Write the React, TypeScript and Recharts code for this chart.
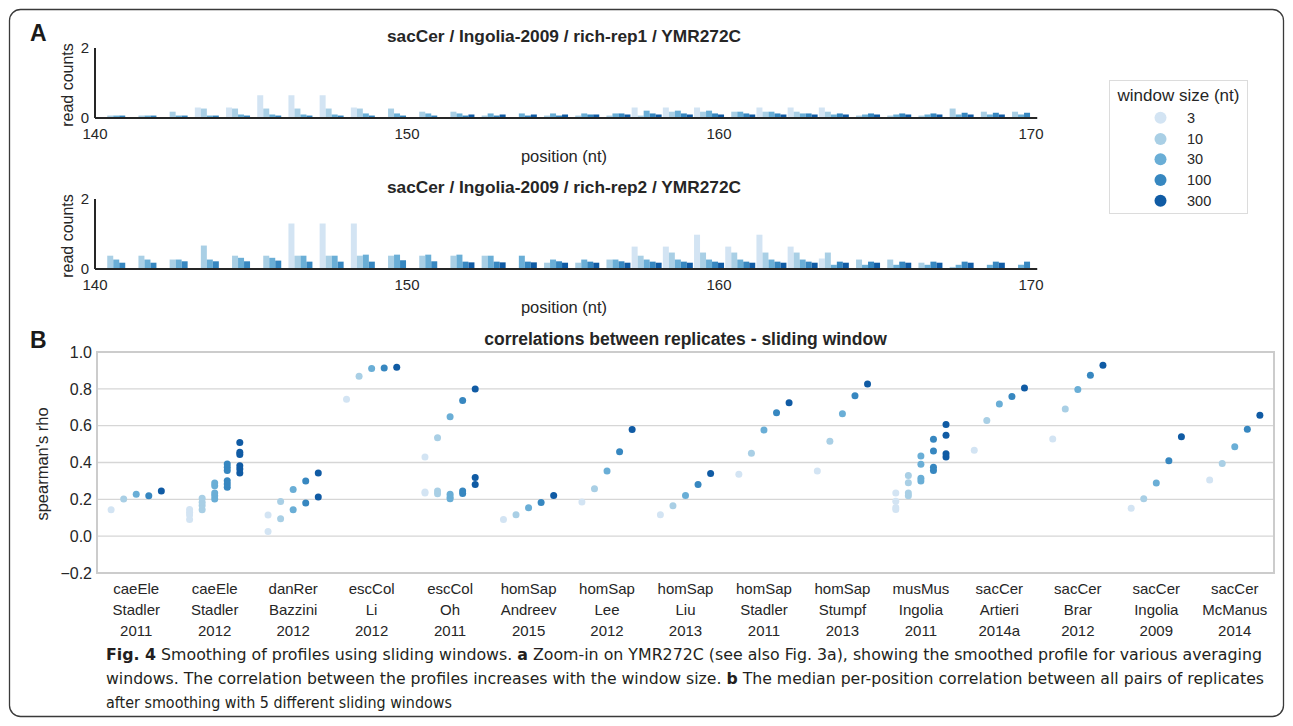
import React from "react";
import {
  ComposedChart,
  Bar,
  XAxis,
  YAxis,
  ScatterChart,
  Scatter,
  CartesianGrid,
  ReferenceArea,
} from "recharts";

// ---------- shared ----------
const windowSizes = ["3", "10", "30", "100", "300"];
const windowColors = ["#d3e4f3", "#a9cfe5", "#6aaed6", "#3787c0", "#105ba4"];
const FONT = "'Liberation Sans', Arial, Helvetica, sans-serif";
const INK = "#262626";

// ---------- panel A : read counts per position ----------
const positions = [
  140, 141, 142, 143, 144, 145, 146, 147, 148, 149, 150, 151, 152, 153, 154,
  155, 156, 157, 158, 159, 160, 161, 162, 163, 164, 165, 166, 167, 168, 169,
];
const positionTicks = [140, 150, 160, 170];
const countTicks = [0, 2];

const rep1W3 = [0, 0, 0, 0.3, 0.3, 0.65, 0.65, 0.65, 0.3, 0, 0, 0, 0, 0, 0, 0, 0, 0.3, 0.3, 0.3, 0, 0.3, 0.3, 0.3, 0, 0, 0, 0, 0, 0];
const rep1W10 = [0.07, 0.07, 0.18, 0.27, 0.27, 0.27, 0.27, 0.27, 0.27, 0.27, 0.18, 0.18, 0.07, 0, 0.07, 0.07, 0.07, 0.07, 0.18, 0.18, 0.18, 0.18, 0.18, 0.18, 0.07, 0.07, 0.07, 0.27, 0.18, 0.18];
const rep1W30 = [0.07, 0.07, 0.07, 0.07, 0.1, 0.1, 0.1, 0.1, 0.13, 0.13, 0.13, 0.13, 0.13, 0.13, 0.13, 0.13, 0.13, 0.21, 0.21, 0.21, 0.18, 0.18, 0.13, 0.1, 0.1, 0.1, 0.1, 0.1, 0.1, 0.1];
const rep1W100 = [0.07, 0.07, 0.07, 0.07, 0.07, 0.07, 0.07, 0.07, 0.07, 0.07, 0.07, 0.07, 0.07, 0.07, 0.07, 0.1, 0.13, 0.13, 0.13, 0.13, 0.13, 0.13, 0.13, 0.13, 0.13, 0.13, 0.13, 0.15, 0.15, 0.15];
const rep1W300 = [0, 0, 0, 0, 0, 0, 0, 0, 0, 0, 0, 0.1, 0.1, 0.1, 0.1, 0.1, 0.1, 0.1, 0.1, 0.1, 0.1, 0.1, 0.1, 0.1, 0.1, 0.1, 0.1, 0.1, 0.1, 0];

const rep2W3 = [0, 0, 0, 0, 0, 0, 1.3, 1.3, 1.3, 0, 0, 0, 0, 0, 0, 0, 0, 0.64, 0.64, 0.98, 0.64, 0.98, 0.64, 0.3, 0, 0, 0, 0, 0, 0];
const rep2W10 = [0.38, 0.38, 0.27, 0.67, 0.38, 0.38, 0.38, 0.38, 0.38, 0.38, 0.38, 0.38, 0.38, 0, 0.18, 0.18, 0.27, 0.38, 0.47, 0.47, 0.47, 0.47, 0.47, 0.47, 0.27, 0.27, 0.18, 0.06, 0, 0];
const rep2W30 = [0.27, 0.27, 0.27, 0.27, 0.32, 0.32, 0.38, 0.38, 0.41, 0.41, 0.41, 0.41, 0.38, 0.38, 0.27, 0.27, 0.27, 0.27, 0.27, 0.27, 0.27, 0.27, 0.27, 0.12, 0.12, 0.12, 0.12, 0.12, 0.12, 0.12];
const rep2W100 = [0.18, 0.18, 0.22, 0.22, 0.22, 0.24, 0.21, 0.21, 0.21, 0.25, 0.22, 0.21, 0.21, 0.21, 0.22, 0.21, 0.22, 0.21, 0.21, 0.21, 0.21, 0.21, 0.21, 0.21, 0.21, 0.21, 0.21, 0.21, 0.21, 0.21];
const rep2W300 = [0, 0, 0, 0, 0, 0, 0, 0, 0, 0, 0, 0.19, 0.19, 0.19, 0.18, 0.18, 0.18, 0.18, 0.18, 0.18, 0.18, 0.18, 0.18, 0.18, 0.18, 0.18, 0.18, 0.18, 0.18, 0];

const windowKeys = ["w3", "w10", "w30", "w100", "w300"];

const buildRows = (a: number[], b: number[], c: number[], d: number[], e: number[]) =>
  positions.map((p, i) => ({ pos: p, w3: a[i], w10: b[i], w30: c[i], w100: d[i], w300: e[i] }));

const rep1Rows = buildRows(rep1W3, rep1W10, rep1W30, rep1W100, rep1W300);
const rep2Rows = buildRows(rep2W3, rep2W10, rep2W30, rep2W100, rep2W300);

// ---------- panel B : spearman correlations ----------
const organisms = ["caeEle", "caeEle", "danRer", "escCol", "escCol", "homSap", "homSap", "homSap", "homSap", "homSap", "musMus", "sacCer", "sacCer", "sacCer", "sacCer"];
const studies = ["Stadler", "Stadler", "Bazzini", "Li", "Oh", "Andreev", "Lee", "Liu", "Stadler", "Stumpf", "Ingolia", "Artieri", "Brar", "Ingolia", "McManus"];
const years = ["2011", "2012", "2012", "2012", "2011", "2015", "2012", "2013", "2011", "2013", "2011", "2014a", "2012", "2009", "2014"];
const rhoTicks = [-0.2, 0, 0.2, 0.4, 0.6, 0.8, 1.0];

const rhoW3 = [[0.144], [0.09, 0.115, 0.13, 0.145], [0.115, 0.025], [0.744], [0.43, 0.235, 0.24], [0.09], [0.185], [0.116], [0.336], [0.354], [0.145, 0.155, 0.19, 0.235], [0.467], [0.528], [0.152], [0.305]];
const rhoW10 = [[0.202], [0.144, 0.166, 0.184, 0.206], [0.188, 0.094], [0.868], [0.535, 0.245, 0.23], [0.116], [0.258], [0.165], [0.45], [0.516], [0.22, 0.235, 0.29, 0.33], [0.628], [0.69], [0.203], [0.394]];
const rhoW30 = [[0.227], [0.202, 0.22, 0.235, 0.274, 0.289], [0.253, 0.144], [0.91], [0.648, 0.227, 0.213, 0.203], [0.154], [0.354], [0.221], [0.576], [0.665], [0.3, 0.315, 0.39, 0.435], [0.717], [0.797], [0.289], [0.485]];
const rhoW100 = [[0.22], [0.265, 0.283, 0.301, 0.356, 0.374, 0.392], [0.3, 0.18], [0.913], [0.737, 0.245, 0.232], [0.183], [0.459], [0.281], [0.67], [0.763], [0.357, 0.374, 0.463, 0.526], [0.759], [0.874], [0.409], [0.581]];
const rhoW300 = [[0.245], [0.343, 0.365, 0.383, 0.444, 0.455, 0.509], [0.343, 0.213], [0.917], [0.799, 0.318, 0.281], [0.221], [0.579], [0.34], [0.725], [0.826], [0.43, 0.447, 0.548, 0.607], [0.805], [0.928], [0.54], [0.656]];
const rhoByWindow = [rhoW3, rhoW10, rhoW30, rhoW100, rhoW300];
const dodgeStep = 0.16;

const scatterSeries = rhoByWindow.map((vals, h) =>
  vals.flatMap((list, i) => list.map((v) => ({ x: i + (h - 2) * dodgeStep, y: v })))
);

// ---------- caption ----------
const captionLines = [
  [
    { t: "Fig. 4", b: true },
    { t: " Smoothing of profiles using sliding windows. ", b: false },
    { t: "a", b: true },
    { t: " Zoom-in on YMR272C (see also Fig. 3a), showing the smoothed profile for various averaging", b: false },
  ],
  [
    { t: "windows. The correlation between the profiles increases with the window size. ", b: false },
    { t: "b", b: true },
    { t: " The median per-position correlation between all pairs of replicates", b: false },
  ],
  [{ t: "after smoothing with 5 different sliding windows", b: false }],
];
const captionWidths = [1156, 1158, 346];

// ---------- components ----------
function ProfileChart({ rows, top }: { rows: any[]; top: number }) {
  return (
    <div style={{ position: "absolute", left: 0, top, width: 1060, height: 170 }}>
      <ComposedChart
        width={1060}
        height={170}
        data={rows}
        margin={{ top: 48, right: 22.76, bottom: 22, left: 55 }}
        barCategoryGap={0}
        barGap={0}
      >
        <XAxis xAxisId="cat" dataKey="pos" type="category" hide height={0} padding={{ left: 6.24, right: 0 }} />
        <XAxis
          xAxisId="num"
          dataKey="pos"
          type="number"
          domain={[140, 170.2]}
          ticks={positionTicks}
          interval={0}
          allowDataOverflow
          axisLine={{ stroke: INK, strokeWidth: 2 }}
          tickLine={false}
          tickSize={6}
          tickMargin={4}
          height={30}
          tick={{ fontSize: 15, fill: INK, fontFamily: FONT }}
        />
        <YAxis
          type="number"
          domain={[0, 2]}
          ticks={countTicks}
          interval={0}
          allowDataOverflow
          width={40}
          axisLine={{ stroke: INK, strokeWidth: 2 }}
          tickLine={false}
          tickSize={0}
          tickMargin={6}
          tick={{ fontSize: 15, fill: INK, fontFamily: FONT }}
        />
        {windowKeys.map((k, i) => (
          <Bar key={k} xAxisId="cat" dataKey={k} fill={windowColors[i]} isAnimationActive={false} />
        ))}
      </ComposedChart>
    </div>
  );
}

const CategoryTick = (props: any) => {
  const { x, y, payload } = props;
  const i = Math.round(payload.value);
  return (
    <text x={x} y={y} textAnchor="middle" fill={INK} fontSize={15} fontFamily={FONT}>
      <tspan x={x} dy={21}>{organisms[i]}</tspan>
      <tspan x={x} dy={21}>{studies[i]}</tspan>
      <tspan x={x} dy={21}>{years[i]}</tspan>
    </text>
  );
};

const fmtRho = (v: number) => (v < 0 ? "\u2212" + Math.abs(v).toFixed(1) : v.toFixed(1));

function CorrelationChart() {
  return (
    <div style={{ position: "absolute", left: 0, top: 330, width: 1293, height: 310 }}>
      <ScatterChart width={1293} height={310} margin={{ top: 22, right: 19, bottom: 7, left: 47 }}>
        <CartesianGrid horizontal vertical={false} stroke="#d6d6d6" strokeWidth={1.3} />
        <XAxis
          type="number"
          dataKey="x"
          domain={[-0.5, 14.5]}
          ticks={organisms.map((_, i) => i)}
          interval={0}
          allowDataOverflow
          axisLine={false}
          tickLine={false}
          tickSize={0}
          tickMargin={0}
          height={60}
          tick={<CategoryTick />}
        />
        <YAxis
          type="number"
          dataKey="y"
          domain={[-0.2, 1.0]}
          ticks={rhoTicks}
          interval={0}
          allowDataOverflow
          axisLine={false}
          tickLine={false}
          tickSize={0}
          tickMargin={5}
          width={50}
          tickFormatter={fmtRho}
          tick={{ fontSize: 16, fill: INK, fontFamily: FONT }}
        />
        <ReferenceArea x1={-0.5} x2={14.5} y1={-0.2} y2={1.0} fill="none" stroke="#cccccc" strokeWidth={2} ifOverflow="visible" />
        {scatterSeries.map((data, h) => (
          <Scatter
            key={windowSizes[h]}
            name={windowSizes[h]}
            data={data}
            fill={windowColors[h]}
            isAnimationActive={false}
            shape={(p: any) => <circle cx={p.cx} cy={p.cy} r={3.5} fill={windowColors[h]} />}
          />
        ))}
      </ScatterChart>
    </div>
  );
}

function Overlay() {
  const legendY = [117.7, 139, 159.3, 180, 200.7];
  return (
    <svg width={1293} height={726} style={{ position: "absolute", left: 0, top: 0, pointerEvents: "none" }} fontFamily={FONT}>
      <rect x={9.5} y={9.5} width={1274} height={707} rx={11} fill="none" stroke="#3a3a3a" strokeWidth={1.3} />
      <text x={30} y={41} fontSize={23} fontWeight="bold" fill="#1a1a1a">A</text>
      <text x={30} y={348} fontSize={23} fontWeight="bold" fill="#1a1a1a">B</text>

      <text x={564} y={42} textAnchor="middle" fontSize={17.3} fontWeight="bold" fill={INK}>sacCer / Ingolia-2009 / rich-rep1 / YMR272C</text>
      <text x={564} y={193} textAnchor="middle" fontSize={17.3} fontWeight="bold" fill={INK}>sacCer / Ingolia-2009 / rich-rep2 / YMR272C</text>
      <text x={564} y={162} textAnchor="middle" fontSize={16.5} fill={INK}>position (nt)</text>
      <text x={564} y={313} textAnchor="middle" fontSize={16.5} fill={INK}>position (nt)</text>
      <text transform="translate(73,85) rotate(-90)" textAnchor="middle" fontSize={16} fill={INK}>read counts</text>
      <text transform="translate(73,236) rotate(-90)" textAnchor="middle" fontSize={16} fill={INK}>read counts</text>

      <text x={685.5} y={345} textAnchor="middle" fontSize={17.5} fontWeight="bold" fill={INK}>correlations between replicates - sliding window</text>
      <text transform="translate(48,464) rotate(-90)" textAnchor="middle" fontSize={16.5} fill={INK}>spearman's rho</text>

      <rect x={1109.5} y={80.5} width={138} height={133} fill="#ffffff" stroke="#dcdcdc" strokeWidth={1} />
      <text x={1178.5} y={101} textAnchor="middle" fontSize={17} fill={INK}>window size (nt)</text>
      {windowSizes.map((w, i) => (
        <g key={w}>
          <circle cx={1160.5} cy={legendY[i]} r={6} fill={windowColors[i]} />
          <text x={1187} y={legendY[i] + 5} fontSize={14.5} fill={INK}>{w}</text>
        </g>
      ))}

      {captionLines.map((line, li) => (
        <text
          key={li}
          x={106}
          y={660 + li * 24}
          fontSize={16.5}
          fill="#231f20"
          fontFamily="'Liberation Sans Narrow', 'DejaVu Sans Condensed', 'Liberation Sans', Arial, sans-serif"
          textLength={captionWidths[li]}
          lengthAdjust="spacingAndGlyphs"
        >
          {line.map((seg, si) => (
            <tspan key={si} fontWeight={seg.b ? "bold" : "normal"}>{seg.t}</tspan>
          ))}
        </text>
      ))}
    </svg>
  );
}

export default function App() {
  return (
    <div style={{ position: "absolute", left: 0, top: 0, width: 1293, height: 726, background: "#ffffff", fontFamily: FONT, overflow: "hidden" }}>
      <ProfileChart rows={rep1Rows} top={0} />
      <ProfileChart rows={rep2Rows} top={151} />
      <CorrelationChart />
      <Overlay />
    </div>
  );
}
